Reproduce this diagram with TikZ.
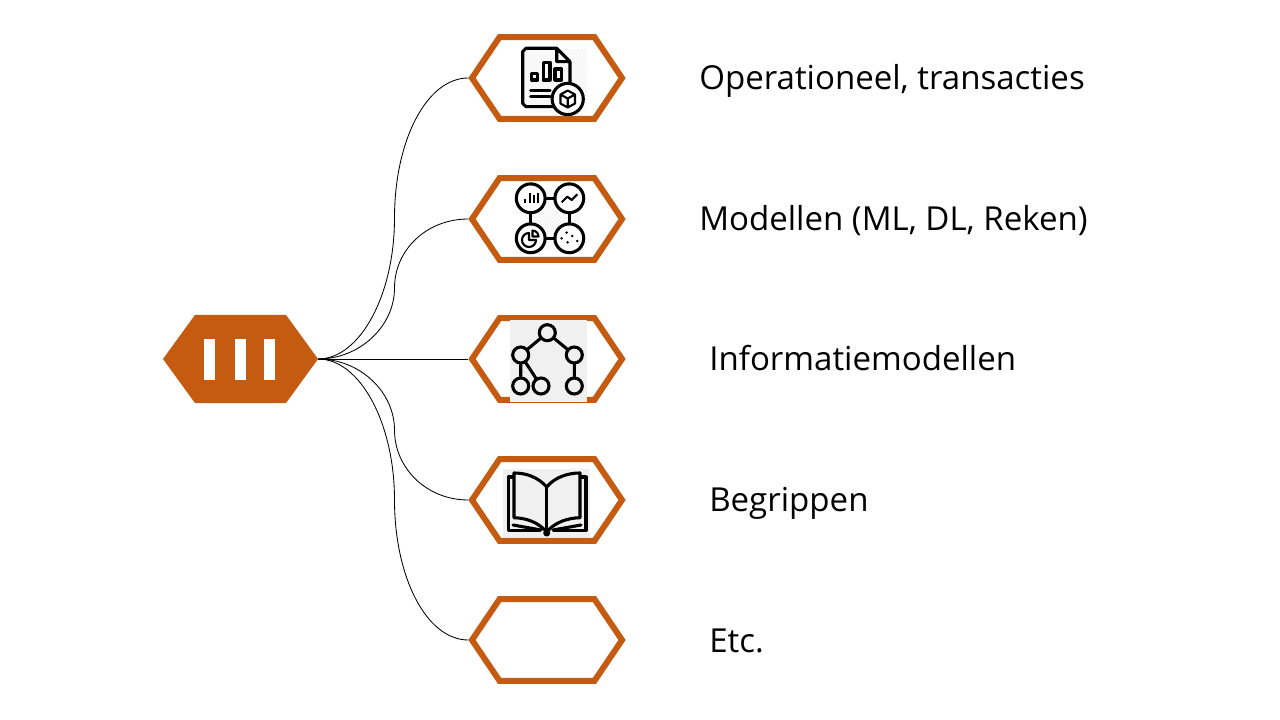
\documentclass[tikz,border=0pt]{standalone}
\usepackage{fontspec}
\setmainfont{Open Sans}
\usetikzlibrary{shapes.symbols,patterns}
\definecolor{rust}{HTML}{C55A11}
\definecolor{icongrey}{HTML}{F0F0F0}

\begin{document}
\begin{tikzpicture}[x=0.025cm,y=-0.025cm,
      hexitem/.style = {shape=signal, signal to=west and east, signal pointer angle=112,
        draw=rust, line width=4.25pt, fill=white, minimum width=3.75cm, minimum height=2.04cm, inner sep=0},
      hexmain/.style = {shape=signal, signal to=west and east, signal pointer angle=108,
        fill=rust, minimum width=3.875cm, minimum height=2.2cm, inner sep=0, outer sep=0},
      bar/.style = {shape=rectangle, fill=white, minimum width=0.275cm, minimum height=1.025cm, inner sep=0, outer sep=0},
      lab/.style = {anchor=base west, inner sep=0, font=\fontsize{23.5}{28}\selectfont},
      link/.style = {draw=black, line width=0.6pt},
      ink/.style = {draw=black, line width=2.2pt, line join=round, line cap=round},
      fine/.style = {draw=black, line width=1.5pt, line join=round},
      dot/.style = {shape=circle, draw=black, line width=2.2pt, fill=icongrey, minimum size=0.4cm, inner sep=0},
      ring/.style = {shape=circle, draw=black, line width=2.2pt, fill=white, minimum size=0.72cm, inner sep=0}]
  \useasboundingbox (0,0) rectangle (1280,720);
  % left block
  \node[hexmain] (main) at (240.5,359) {};
  \node[bar] (bar1) at (209.5,359.5) {};
  \node[bar] (bar2) at (240.5,359.5) {};
  \node[bar] (bar3) at (269.5,359.5) {};
  % items
  \node[hexitem] (oper) at (547,78) {};
  \node[hexitem] (model) at (547,219) {};
  \node[hexitem] (info) at (547,359) {};
  \node[hexitem] (begrip) at (547,500) {};
  \node[hexitem] (etc) at (547,640) {};
  % connectors
  \coordinate (midoper) at (394.5,218);
  \coordinate (midmodel) at (394.5,288);
  \coordinate (midbegrip) at (394.5,430);
  \coordinate (midetc) at (394.5,500);
  \foreach \itemname/\midname/\bend in {oper/midoper/77,model/midmodel/38,begrip/midbegrip/-38,etc/midetc/-77}
    \draw[link] (main.east) .. controls +(42,0) and +(0,\bend) .. (\midname)
      .. controls +(0,-\bend) and +(-42,0) .. (\itemname.west);
  \draw[link] (main.east) -- (info.west);
  % labels
  \node[lab] (laboper) at (699,90) {Operationeel, transacties};
  \node[lab] (labmodel) at (699,231) {Modellen (ML, DL, Reken)};
  \node[lab] (labinfo) at (709,371) {Informatiemodellen};
  \node[lab] (labbegrip) at (709,511) {Begrippen};
  \node[lab] (labetc) at (709,652) {Etc.};
  % report icon
  \fill[pattern=crosshatch, pattern color=black!5] (525,50) rectangle (587,112);
  \draw[ink] (556.7,48.3) -- (526,48.3) -- (522.7,51.5) -- (522.7,103.5) -- (526,106.7) -- (553,106.7);
  \draw[ink] (556.7,48.3) -- (556.7,61.7) -- (570,61.7) -- cycle (570,61.7) -- (570,84);
  \draw[ink] (531.7,73.3) rectangle (537.7,80) (543.3,62.3) rectangle (550,80) (555,69) rectangle (561.7,80);
  \draw[ink] (530.7,90.7) -- (550,90.7) (530.7,96.7) -- (550,96.7);
  \node[ring,minimum size=0.78cm] (cubering) at (567.7,99) {};
  \draw[fine] (567.7,90.5) -- (575,94.5) -- (575,103.5) -- (567.7,107.5) -- (560.5,103.5) -- (560.5,94.5) -- cycle
    (560.5,94.5) -- (567.7,98.5) -- (575,94.5) (567.7,98.5) -- (567.7,107.5);
  % charts icon
  \fill[pattern=crosshatch, pattern color=black!5] (525,190) rectangle (580,250);
  \node[ring] (chartbar) at (530.7,198.3) {};
  \node[ring] (chartline) at (569.3,198.3) {};
  \node[ring] (chartpie) at (530.7,238.3) {};
  \node[ring] (chartdots) at (569.3,238.3) {};
  \draw[ink] (chartbar) -- (chartline) -- (chartdots) -- (chartpie) -- (chartbar);
  \draw[fine] (525,203.5) -- (525,199) (530.2,203.5) -- (530.2,193.5) (534,203.5) -- (534,195) (538,203.5) -- (538,193.5);
  \draw[fine] (561.7,202.3) -- (567.3,196.7) -- (571.7,200) -- (577.3,194.3);
  \draw[fine] (529,233) arc (-90:-360:7) -- (529,240) -- cycle;
  \draw[fine] (532.5,236.5) -- (532.5,230.5) arc (-90:0:6) -- cycle;
  \foreach \dx/\dy in {-2.7/-5.7,3/-2.3,-7.7/0,8/2.7,-1.7/4}
    \fill (569.3+\dx,238.3+\dy) circle (1.4);
  % tree icon
  \fill[icongrey] (510,320) rectangle (586.7,401.7);
  \node[dot] (root) at (547.3,332.7) {};
  \node[dot] (treel) at (520.7,355) {};
  \node[dot] (treer) at (574.3,355) {};
  \node[dot] (leafa) at (520.7,386) {};
  \node[dot] (leafb) at (541,386) {};
  \node[dot] (leafc) at (574.3,386) {};
  \draw[ink] (root) -- (treel) (root) -- (treer) (treel) -- (leafa) (treel) -- (leafb) (treer) -- (leafc);
  % book icon
  \fill[icongrey] (502.7,468.7) rectangle (590,537);
  \draw[ink] (546.7,487) .. controls (538,477) and (526,473) .. (514,473) -- (514,517.7) .. controls (526,518) and (538,522) .. (546.7,532);
  \draw[ink] (546.7,487) .. controls (555,477) and (568,473) .. (580,473) -- (580,517.7) .. controls (568,518) and (555,522) .. (546.7,532);
  \draw[ink] (546.7,487) -- (546.7,532);
  \draw[ink] (513,477) -- (508.3,477) -- (508.3,530.3) -- (540,530.3) (581,477) -- (586,477) -- (586,530.3) -- (553.3,530.3);
  \draw[ink] (513,525) -- (541,530) (581,525) -- (553,530);
  \fill (546.7,533) circle (3.5);
\end{tikzpicture}
\end{document}
